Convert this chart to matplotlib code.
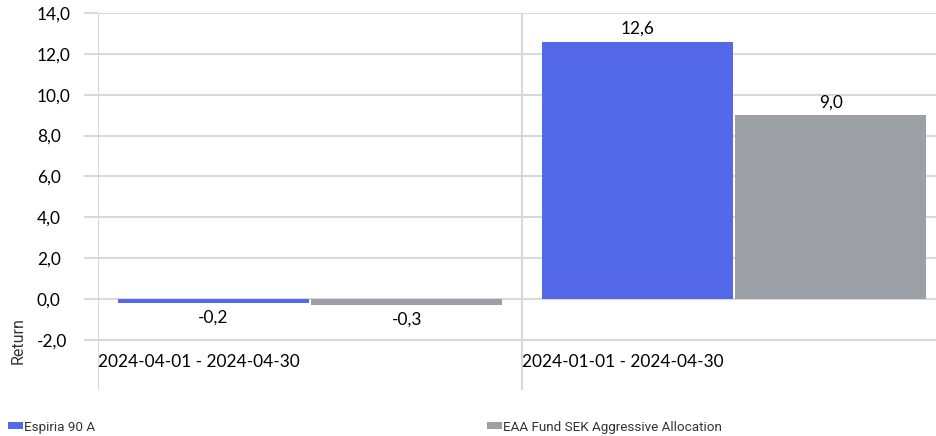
import matplotlib
matplotlib.use('Agg')
import matplotlib.pyplot as plt
import numpy as np

# data
periods = ['2024-04-01 - 2024-04-30', '2024-01-01 - 2024-04-30']
fund_name = 'Espiria 90 A'
bench_name = 'EAA Fund SEK Aggressive Allocation'
fund_ret = [-0.2, 12.6]
bench_ret = [-0.3, 9.0]
yticks = [-2, 0, 2, 4, 6, 8, 10, 12, 14]

blue = '#5469EA'
gray = '#9CA0A6'
grid_c = '#D9D9D9'
txt_c = '#000000'
fs = 12.4

W, H = 937, 436
fig = plt.figure(figsize=(W / 100, H / 100), dpi=100)
ax = fig.add_axes([98 / W, (H - 390) / H, 848 / W, 377 / H])

x = np.arange(len(periods))
bw = 0.4517
gap = 0.002
b1 = ax.bar(x - bw / 2 - gap, fund_ret, bw, color=blue, label=fund_name, zorder=3)
b2 = ax.bar(x + bw / 2 + gap, bench_ret, bw, color=gray, label=bench_name, zorder=3)

def fmt(v):
    return f'{v:.1f}'.replace('.', ',')

for bars, vals in ((b1, fund_ret), (b2, bench_ret)):
    for r, v in zip(bars, vals):
        off = 13 if v >= 0 else -14
        ax.annotate(fmt(v), (r.get_x() + r.get_width() / 2, v), xytext=(0, off * 0.72),
                    textcoords='offset points', ha='center', va='center',
                    fontsize=fs, family='Lato', color=txt_c)

ax.set_xlim(-0.5, len(periods) - 0.5)
ax.set_ylim(-4.45, 14)
ax.set_yticks(yticks)
ax.set_yticklabels([fmt(v) for v in yticks], fontsize=fs, family='Lato', color=txt_c)
for lab in ax.get_yticklabels():
    lab.set_ha('left')
ax.tick_params(axis='y', length=10, width=1.5, color=grid_c, pad=34)
ax.set_xticks([])
for y in yticks:
    ax.axhline(y, color=grid_c, lw=1.5, zorder=1)
for xb in np.arange(len(periods) + 1) - 0.5:
    ax.axvline(xb, color=grid_c, lw=1.5, zorder=1)
for s in ax.spines.values():
    s.set_visible(False)

# category labels inside the plot area, below -2
for i, p in enumerate(periods):
    ax.text(i - 0.5 + 0.001, -3.08, p, ha='left', va='center', fontsize=fs,
            family='Lato', color=txt_c)

fig.text(18 / W, 1 - 341 / H, 'Return', rotation=90, ha='center', va='center',
         fontsize=11.5, family='Roboto', color='#333333')

leg_kw = dict(frameon=False, handlelength=1.1, handleheight=0.45,
              handletextpad=0.1, borderpad=0, borderaxespad=0,
              prop={'family': 'Roboto', 'size': 9.7})
l1 = fig.legend(handles=[b1], loc='center left', bbox_to_anchor=(8 / W, 1 - 427 / H), **leg_kw)
l2 = fig.legend(handles=[b2], loc='center left', bbox_to_anchor=(487 / W, 1 - 427 / H), **leg_kw)
for l in (l1, l2):
    for t in l.get_texts():
        t.set_color('#333333')

plt.savefig('out.png', dpi=100)
